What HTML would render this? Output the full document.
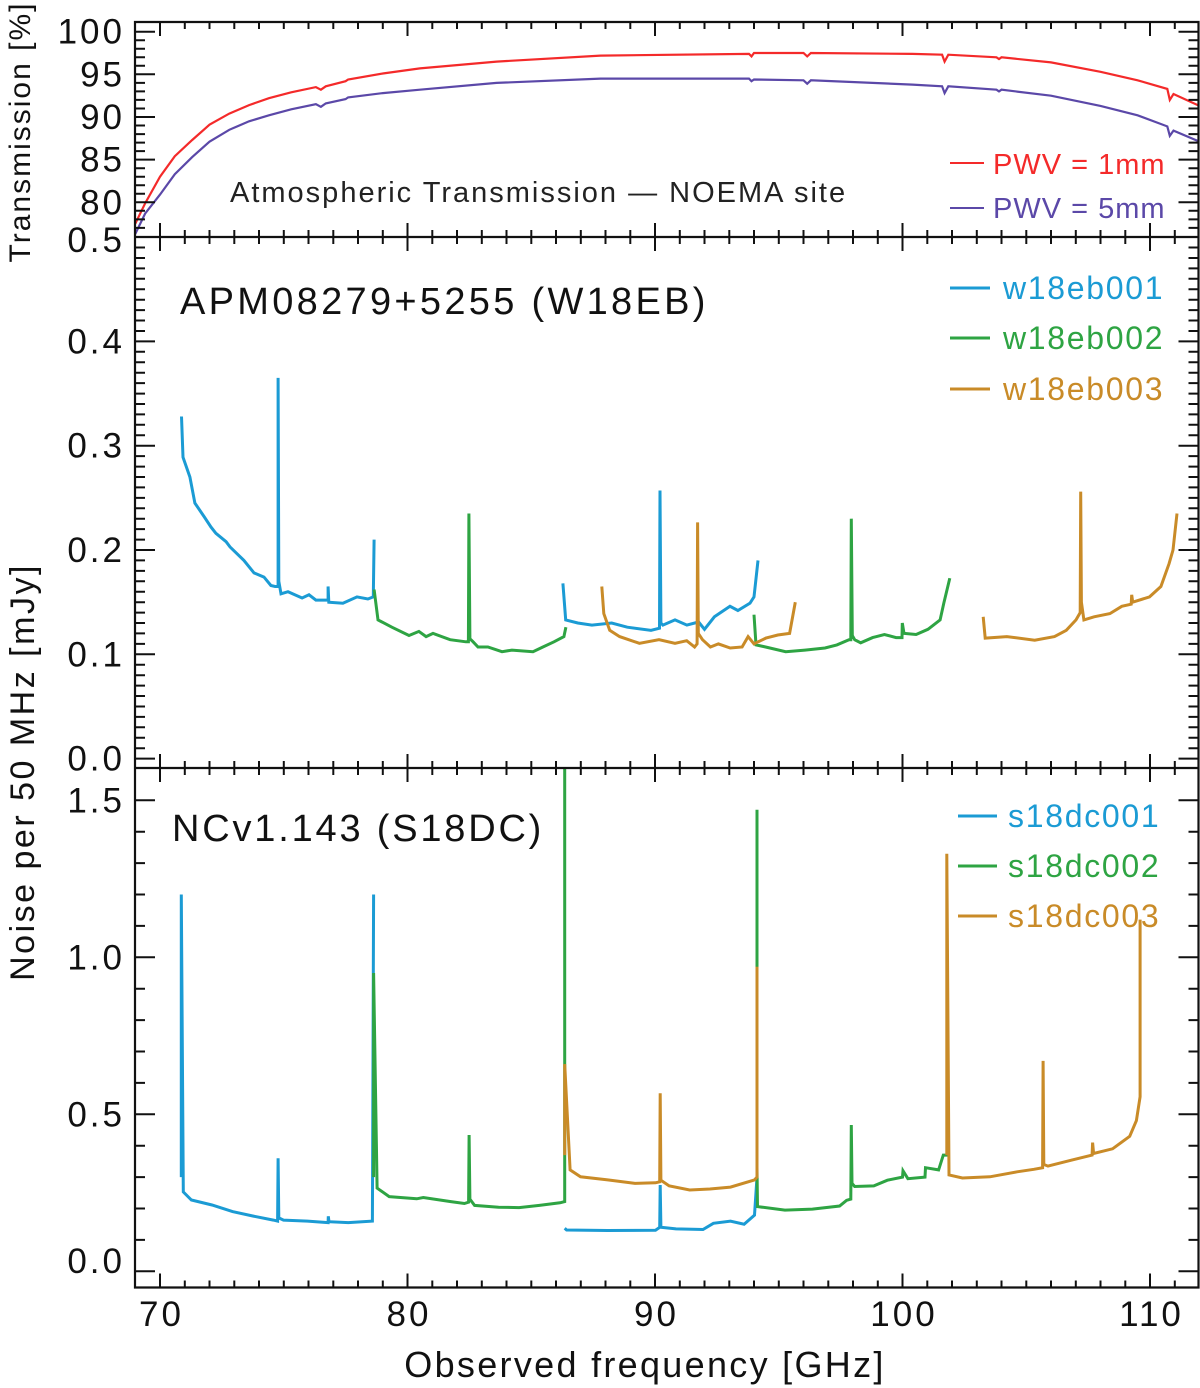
<!DOCTYPE html>
<html><head><meta charset="utf-8"><style>
html,body{margin:0;padding:0;background:#fff;}
svg{display:block;font-family:"Liberation Sans",sans-serif;}
</style></head><body>
<svg id="fig" width="1200" height="1388" viewBox="0 0 1200 1388" xmlns="http://www.w3.org/2000/svg">
<defs>
<clipPath id="cTop"><rect x="135" y="22" width="1064" height="215"/></clipPath>
<clipPath id="cMid"><rect x="135" y="237" width="1064" height="531"/></clipPath>
<clipPath id="cBot"><rect x="135" y="768" width="1064" height="520"/></clipPath>
</defs>
<g id="marks"></g>
<g id="axes"></g>
<text x="230" y="202" font-size="29" letter-spacing="2" fill="#222">Atmospheric Transmission — NOEMA site</text>
<line x1="950" y1="163" x2="984" y2="163" stroke="#f42a2a" stroke-width="2"/>
<text x="993" y="174" font-size="29" letter-spacing="1" fill="#f42a2a">PWV = 1mm</text>
<line x1="950" y1="208" x2="984" y2="208" stroke="#5b48a8" stroke-width="2"/>
<text x="993" y="218" font-size="29" letter-spacing="1" fill="#5b48a8">PWV = 5mm</text>
<text x="180" y="314" font-size="38" letter-spacing="3.3" fill="#111">APM08279+5255 (W18EB)</text>
<line x1="950" y1="288" x2="990" y2="288" stroke="#1b9bd4" stroke-width="3"/>
<text x="1003" y="299" font-size="32" letter-spacing="1.7" fill="#1b9bd4">w18eb001</text>
<line x1="950" y1="338" x2="990" y2="338" stroke="#2ea443" stroke-width="3"/>
<text x="1003" y="349" font-size="32" letter-spacing="1.7" fill="#2ea443">w18eb002</text>
<line x1="950" y1="389" x2="990" y2="389" stroke="#c98b28" stroke-width="3"/>
<text x="1003" y="400" font-size="32" letter-spacing="1.7" fill="#c98b28">w18eb003</text>
<text x="172" y="841" font-size="38" letter-spacing="2.8" fill="#111">NCv1.143 (S18DC)</text>
<line x1="958" y1="816" x2="997" y2="816" stroke="#1b9bd4" stroke-width="3"/>
<text x="1008" y="827" font-size="32" letter-spacing="1.7" fill="#1b9bd4">s18dc001</text>
<line x1="958" y1="866" x2="997" y2="866" stroke="#2ea443" stroke-width="3"/>
<text x="1008" y="877" font-size="32" letter-spacing="1.7" fill="#2ea443">s18dc002</text>
<line x1="958" y1="916" x2="997" y2="916" stroke="#c98b28" stroke-width="3"/>
<text x="1008" y="927" font-size="32" letter-spacing="1.7" fill="#c98b28">s18dc003</text>
<text x="645" y="1377" font-size="36" letter-spacing="2.3" text-anchor="middle" fill="#111">Observed frequency [GHz]</text>
<text transform="translate(34,772) rotate(-90)" font-size="34" letter-spacing="2.5" text-anchor="middle" fill="#111">Noise per 50 MHz [mJy]</text>
<text transform="translate(30,132) rotate(-90)" font-size="30" letter-spacing="2" text-anchor="middle" fill="#111">Transmission [%]</text>
</svg>
<script>
// ---- data ----
const tFreq = [69.0,69.4,70.0,70.6,71.3,72.0,72.8,73.6,74.4,75.3,76.3,76.5,76.7,77.5,77.6,79.0,80.5,83.6,87.8,93.8,93.9,94.0,96.0,96.15,96.3,100.4,101.6,101.7,101.85,103.8,103.9,104.0,106.0,108.0,109.5,110.7,110.8,110.95,112.0];
const tPwv1 = [77.5,79.9,83.0,85.4,87.3,89.1,90.4,91.4,92.2,92.9,93.5,93.2,93.6,94.2,94.4,95.1,95.7,96.5,97.2,97.4,97.1,97.5,97.5,97.1,97.5,97.4,97.3,96.5,97.3,97.0,96.8,97.0,96.4,95.3,94.3,93.3,92.0,92.7,91.3];
const tPwv5 = [76.3,78.7,80.9,83.3,85.3,87.1,88.5,89.5,90.2,90.9,91.5,91.2,91.6,92.1,92.3,92.8,93.2,94.0,94.5,94.5,94.2,94.4,94.3,93.9,94.3,93.8,93.6,92.8,93.6,93.2,93.0,93.2,92.5,91.3,90.2,88.9,87.8,88.4,87.1];

const w1F1 = [70.87,70.93,71.21,71.41,71.78,72.06,72.26,72.67,72.83,73.39,73.80,74.20,74.48,74.65,74.77,74.77,74.80,74.89,75.17,75.74,76.02,76.30,76.59,76.79,76.79,76.82,77.39,77.96,78.40,78.62,78.65];
const w1V1 = [0.328,0.289,0.270,0.245,0.232,0.222,0.216,0.208,0.203,0.190,0.178,0.174,0.166,0.165,0.165,0.365,0.17,0.158,0.160,0.154,0.157,0.152,0.152,0.152,0.165,0.150,0.149,0.155,0.153,0.155,0.210];
const w1F2 = [86.28,86.39,86.88,87.45,88.25,88.88,89.84,90.18,90.20,90.24,90.32,90.81,91.29,91.76,92.00,92.40,93.03,93.35,93.84,94.00,94.16];
const w1V2 = [0.168,0.133,0.130,0.128,0.130,0.126,0.123,0.125,0.257,0.13,0.128,0.133,0.128,0.131,0.124,0.136,0.146,0.142,0.149,0.155,0.190];
const w2F1 = [78.65,78.81,79.37,80.06,80.46,80.75,81.03,81.72,82.36,82.46,82.48,82.52,82.65,82.85,83.25,83.82,84.22,85.07,85.47,85.92,86.32,86.40];
const w2V1 = [0.162,0.133,0.126,0.118,0.122,0.117,0.120,0.114,0.112,0.112,0.235,0.115,0.112,0.107,0.107,0.1025,0.104,0.1025,0.107,0.112,0.117,0.126];
const w2F2 = [94.00,94.08,94.47,95.28,96.06,96.87,97.35,97.84,97.91,97.93,97.97,98.07,98.31,98.79,99.27,99.74,99.98,99.99,100.06,100.55,101.03,101.52,101.67,101.91];
const w2V2 = [0.138,0.109,0.107,0.1025,0.104,0.106,0.109,0.114,0.114,0.230,0.118,0.114,0.111,0.116,0.119,0.116,0.116,0.130,0.120,0.119,0.124,0.133,0.149,0.173];
const w3F1 = [87.85,87.93,88.17,88.57,89.37,90.16,90.81,91.28,91.60,91.70,91.72,91.75,91.92,92.24,92.56,93.04,93.52,93.76,94.00,94.48,94.96,95.44,95.67];
const w3V1 = [0.165,0.139,0.123,0.117,0.1105,0.114,0.1105,0.113,0.107,0.110,0.2265,0.12,0.114,0.107,0.110,0.106,0.107,0.117,0.110,0.1155,0.1185,0.120,0.150];
const w3F2 = [103.26,103.34,104.22,105.34,106.14,106.62,107.01,107.18,107.20,107.23,107.33,107.74,108.38,108.86,109.24,109.26,109.30,109.98,110.44,110.77,110.93,111.09];
const w3V2 = [0.136,0.1155,0.117,0.1135,0.117,0.123,0.133,0.14,0.256,0.15,0.133,0.136,0.139,0.146,0.148,0.157,0.150,0.155,0.165,0.187,0.200,0.235];

const s1F1 = [70.86,70.86,70.94,71.27,72.10,72.93,73.75,74.58,74.75,74.77,74.80,74.99,75.96,76.79,76.80,76.83,77.61,78.58,78.63];
const s1V1 = [0.30,1.20,0.253,0.227,0.211,0.190,0.176,0.163,0.160,0.36,0.17,0.163,0.160,0.155,0.175,0.158,0.155,0.160,1.20];
const s1F2 = [86.35,86.43,88.09,90.02,90.19,90.21,90.24,90.85,91.94,92.36,93.05,93.60,94.02,94.12];
const s1V2 = [0.137,0.1315,0.130,0.131,0.14,0.275,0.14,0.135,0.133,0.153,0.160,0.150,0.179,0.30];
const s2F1 = [78.63,78.63,78.77,79.26,80.37,80.64,81.75,82.30,82.47,82.49,82.52,82.71,83.68,84.51,85.33,86.16,86.35,86.35];
const s2V1 = [0.30,0.95,0.265,0.238,0.231,0.235,0.222,0.216,0.22,0.434,0.23,0.210,0.204,0.203,0.210,0.218,0.222,1.7];
const s2F2 = [94.12,94.12,94.14,95.25,96.36,97.46,97.74,97.91,97.93,97.96,98.07,98.84,99.39,100.0,100.02,100.22,100.91,100.93,101.46,101.65,101.84];
const s2V2 = [1.47,0.33,0.206,0.195,0.198,0.208,0.226,0.23,0.466,0.28,0.27,0.272,0.29,0.30,0.32,0.295,0.300,0.33,0.323,0.37,0.37];
const s3F1 = [86.35,86.35,86.57,86.99,88.09,89.19,90.02,90.19,90.21,90.24,90.57,91.40,92.22,93.05,94.02,94.12,94.12];
const s3V1 = [0.37,0.66,0.323,0.301,0.291,0.280,0.282,0.285,0.567,0.29,0.272,0.259,0.262,0.268,0.291,0.30,0.97];
const s3F2 = [101.79,101.79,101.88,102.42,103.53,104.63,105.31,105.66,105.68,105.71,105.88,106.84,107.66,107.68,107.72,108.49,109.18,109.45,109.60,109.60];
const s3V2 = [0.37,1.33,0.307,0.297,0.301,0.317,0.325,0.33,0.67,0.34,0.335,0.354,0.37,0.41,0.375,0.39,0.43,0.48,0.556,1.12];

const xTickLabels = [70,80,90,100,110];
const topTickLabels = ["100","95","90","85","80"];
const midTickLabels = ["0.5","0.4","0.3","0.2","0.1","0.0"];
const botTickLabels = ["1.5","1.0","0.5","0.0"];

// ---- scales ----
const L = 135, R = 1198.5;
function X(f){ return 160 + (f - 70) * 24.75; }
function Ytop(v){ return 31.7 + (100 - v) * 8.53; }
function Ymid(v){ return 758.6 - v * 1043; }
function Ybot(v){ return 1271.3 - v * 314; }
const NS = "http://www.w3.org/2000/svg";
const marks = document.getElementById('marks');
const axes = document.getElementById('axes');

function poly(parent, F, V, ys, color, w, name, clip){
  const p = document.createElementNS(NS,'polyline');
  p.setAttribute('points', F.map((f,i)=>X(f).toFixed(1)+','+ys(V[i]).toFixed(1)).join(' '));
  p.setAttribute('fill','none');
  p.setAttribute('stroke',color);
  p.setAttribute('stroke-width',w);
  p.setAttribute('stroke-linejoin','miter');
  p.setAttribute('clip-path','url(#'+clip+')');
  
  
  parent.appendChild(p);
}
const BLUE="#1b9bd4", GREEN="#2ea443", ORANGE="#c98b28";
poly(marks,tFreq,tPwv5,Ytop,"#5b48a8",2.2,"pwv5-line","cTop");
poly(marks,tFreq,tPwv1,Ytop,"#f42a2a",2.2,"pwv1-line","cTop");
poly(marks,w1F1,w1V1,Ymid,BLUE,3,"w18eb001-seg1","cMid");
poly(marks,w1F2,w1V2,Ymid,BLUE,3,"w18eb001-seg2","cMid");
poly(marks,w2F1,w2V1,Ymid,GREEN,3,"w18eb002-seg1","cMid");
poly(marks,w2F2,w2V2,Ymid,GREEN,3,"w18eb002-seg2","cMid");
poly(marks,w3F1,w3V1,Ymid,ORANGE,3,"w18eb003-seg1","cMid");
poly(marks,w3F2,w3V2,Ymid,ORANGE,3,"w18eb003-seg2","cMid");
poly(marks,s1F1,s1V1,Ybot,BLUE,3,"s18dc001-seg1","cBot");
poly(marks,s1F2,s1V2,Ybot,BLUE,3,"s18dc001-seg2","cBot");
poly(marks,s2F1,s2V1,Ybot,GREEN,3,"s18dc002-seg1","cBot");
poly(marks,s2F2,s2V2,Ybot,GREEN,3,"s18dc002-seg2","cBot");
poly(marks,s3F1,s3V1,Ybot,ORANGE,3,"s18dc003-seg1","cBot");
poly(marks,s3F2,s3V2,Ybot,ORANGE,3,"s18dc003-seg2","cBot");

// ---- axes ----
let d = "";
function ln(x1,y1,x2,y2){ d += "M"+x1.toFixed(1)+" "+y1.toFixed(1)+"L"+x2.toFixed(1)+" "+y2.toFixed(1); }
const panels = [[22,237],[237,768],[768,1287.5]];
panels.forEach(([t,b])=>{
  for(let f=70; f<=111; f++){
    const len = (f%10===0)?14:7;
    ln(X(f),b,X(f),b-len); ln(X(f),t,X(f),t+len);
  }
});
for(let v=76; v<=100; v++){ const len=(v%5===0)?20:10; const y=Ytop(v); if(y<24||y>235) continue; ln(L,y,L+len,y); ln(R,y,R-len,y); }
for(let i=0; i<=50; i++){ const v=i/100; const len=(i%10===0)?20:10; const y=Ymid(v); if(y<239||y>766) continue; ln(L,y,L+len,y); ln(R,y,R-len,y); }
for(let i=0; i<=16; i++){ const v=i/10; const len=(i%5===0)?20:10; const y=Ybot(v); if(y<770||y>1285) continue; ln(L,y,L+len,y); ln(R,y,R-len,y); }
const tk = document.createElementNS(NS,'path');
tk.setAttribute('d', d); tk.setAttribute('stroke','#111'); tk.setAttribute('stroke-width','2'); tk.setAttribute('fill','none');


axes.appendChild(tk);
const fr = document.createElementNS(NS,'path');
fr.setAttribute('d','M'+L+' 22H'+R+'V1287.5H'+L+'Z M'+L+' 237H'+R+' M'+L+' 768H'+R);
fr.setAttribute('stroke','#111'); fr.setAttribute('stroke-width','2.2'); fr.setAttribute('fill','none');


axes.appendChild(fr);

function label(x,y,txt,anchor,name){
  const t = document.createElementNS(NS,'text');
  t.setAttribute('x',x); t.setAttribute('y',y);
  t.setAttribute('font-size','35'); t.setAttribute('fill','#111');
  t.setAttribute('letter-spacing','3');
  t.setAttribute('text-anchor',anchor);
  t.textContent = txt;
  
  
  axes.appendChild(t);
}
xTickLabels.forEach(v=>label(X(v)+1.5,1326,String(v),'middle','x-tick-label'));
topTickLabels.forEach(s=>label(125,Ytop(parseFloat(s))+12,s,'end','y-tick-label-transmission'));
midTickLabels.forEach(s=>label(125,Math.max(Ymid(parseFloat(s)),240)+12,s,'end','y-tick-label-apm'));
botTickLabels.forEach(s=>label(125,Math.min(Ybot(parseFloat(s)),1261)+12,s,'end','y-tick-label-ncv'));
</script>
</body></html>
